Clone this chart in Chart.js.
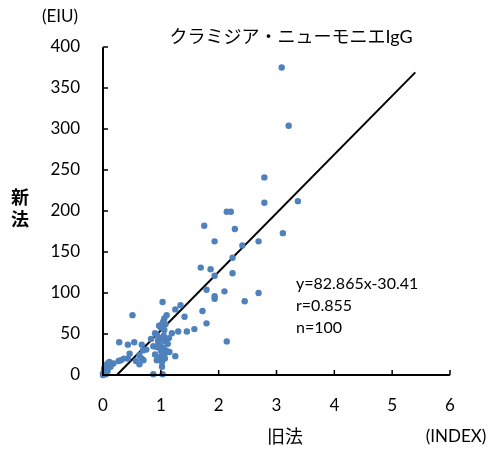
<!DOCTYPE html>
<html><head><meta charset="utf-8">
<script src="https://cdn.jsdelivr.net/npm/chart.js@4"></script>
<style>html,body{margin:0;padding:0;background:#fff}</style>
</head><body>
<canvas id="c" width="491" height="450"></canvas>
<script>
const FONT = "Lato, 'Noto Sans CJK JP', sans-serif";
const titleText = "クラミジア・ニューモニエIgG";
const yUnit = "(EIU)";
const xUnit = "(INDEX)";
const xLabel = "旧法";
const yLabel = ["新", "法"];
const annotation = ["y=82.865x-30.41", "r=0.855", "n=100"];
const xTicks = [0, 1, 2, 3, 4, 5, 6];
const yTicks = [0, 50, 100, 150, 200, 250, 300, 350, 400];

const oldMethod = [3.09,3.21,2.79,2.79,3.37,2.14,2.21,1.75,2.28,3.11,1.93,2.69,2.41,2.24,1.69,1.86,1.93,2.24,1.79,1.93,1.93,2.10,2.45,2.69,
1.04,1.02,1.10,1.06,0.90,0.93,1.19,1.30,1.45,1.58,0.99,1.04,1.07,0.87,0.93,0.99,1.04,0.67,0.69,1.02,1.07,1.25,0.99,1.07,0.67,0.70,1.02,1.02,0.87,1.03,0.83,
0.28,0.43,0.54,0.46,0.27,0.31,0.43,0.63,0.57,0.63,0.11,0.08,0.05,0.02,0.02,0.05,0.00,0.00,
0.51,1.03,1.34,1.25,1.72,1.41,1.79,2.14,
0.96,1.00,1.05,0.95,1.09,1.12,0.90,1.06,1.00,0.97,1.08,0.13,0.18,0.08,0.36,0.75,1.15,0.93,1.14];
const newMethod = [375,304,241,210,212,199,199,182,178,173,163,163,158,143,131,129,121,124,104,96,93,102,90,100,
65,62,73,69,51,49,51,53,53,56,45,43,41,35,34,35,33,37,30,28,26,23,22,20,20,18,16,10,1,1,44,
40,37,40,26,17,18,20,24,17,13,16,14,12,8,4,1,0,2,
73,89,85,80,78,71,63,41,
38,30,48,42,30,38,25,55,58,60,62,10,14,5,20,31,28,18,45];
const fitLineX = [0.24, 5.4];
const fitLineY = [0, 369];

const points = oldMethod.map((x, i) => ({x: x, y: newMethod[i]}));
const fitLine = fitLineX.map((x, i) => ({x: x, y: fitLineY[i]}));

const decor = {
  id: 'decor',
  afterDraw(chart) {
    const ctx = chart.ctx;
    const xs = chart.scales.x, ys = chart.scales.y;
    const x0 = xs.getPixelForValue(0), x6 = xs.getPixelForValue(6);
    const y0 = ys.getPixelForValue(0), y400 = ys.getPixelForValue(400);
    ctx.save();
    ctx.strokeStyle = '#000';
    ctx.lineWidth = 2;
    ctx.beginPath();
    ctx.moveTo(x0, y400); ctx.lineTo(x0, y0); ctx.lineTo(x6, y0);
    ctx.stroke();
    ctx.lineWidth = 1.5;
    ctx.beginPath();
    yTicks.forEach(v => { const p = ys.getPixelForValue(v); ctx.moveTo(x0, p); ctx.lineTo(x0 + 5, p); });
    xTicks.forEach(v => { const p = xs.getPixelForValue(v); ctx.moveTo(p, y0); ctx.lineTo(p, y0 - 5); });
    ctx.stroke();
    ctx.fillStyle = '#000';
    ctx.textBaseline = 'middle';
    ctx.textAlign = 'center';
    ctx.font = "17px " + FONT;
    ctx.fillText(yUnit, 60, 17);
    ctx.fillText(xUnit, 456, 437);
    ctx.font = "18px " + FONT;
    ctx.fillText(titleText, 291, 37);
    ctx.fillText(xLabel, 285, 437);
    ctx.font = "bold 18px " + FONT;
    ctx.fillText(yLabel[0], 20, 198);
    ctx.fillText(yLabel[1], 20, 220);
    ctx.textAlign = 'left';
    ctx.font = "16px " + FONT;
    annotation.forEach((t, i) => ctx.fillText(t, 296, 284 + i * 22));
    ctx.restore();
  }
};

new Chart(document.getElementById('c'), {
  type: 'scatter',
  data: {
    datasets: [
      {data: fitLine, showLine: true, borderColor: '#000', borderWidth: 2, pointRadius: 0, clip: false, order: 2},
      {data: points, backgroundColor: '#4f81bd', borderColor: '#4f81bd', pointRadius: 3.2, borderWidth: 0, clip: false, order: 1}
    ]
  },
  options: {
    responsive: false,
    animation: false,
    events: [],
    layout: {padding: {left: 0, right: 41, top: 47, bottom: 0}},
    plugins: {legend: {display: false}, tooltip: {enabled: false}, title: {display: false}},
    scales: {
      x: {
        type: 'linear', min: 0, max: 6,
        afterBuildTicks(s) { s.ticks = xTicks.map(v => ({value: v})); },
        afterFit(s) { s.height = 75; },
        grid: {display: false, drawTicks: false},
        border: {display: false},
        ticks: {color: '#000', padding: 20, font: {family: FONT, size: 17}, maxRotation: 0}
      },
      y: {
        type: 'linear', min: 0, max: 400,
        afterBuildTicks(s) { s.ticks = yTicks.map(v => ({value: v})); },
        afterFit(s) { s.width = 103; },
        grid: {display: false, drawTicks: false},
        border: {display: false},
        ticks: {color: '#000', padding: 23, font: {family: FONT, size: 17}}
      }
    }
  },
  plugins: [decor]
});
</script>
</body></html>
